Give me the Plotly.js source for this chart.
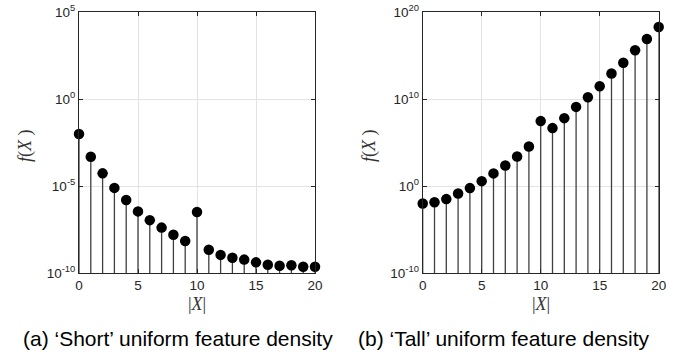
<!DOCTYPE html>
<html>
<head>
<meta charset="utf-8">
<script src="https://cdn.plot.ly/plotly-3.0.1.min.js"></script>
<style>html,body{margin:0;padding:0;background:#fff;}#plot{width:689px;height:354px;}</style>
</head>
<body>
<div id="plot"></div>
<script>
const sizes = [0,1,2,3,4,5,6,7,8,9,10,11,12,13,14,15,16,17,18,19,20];
const shortValues = [1.0e-2,4.9e-4,5.4e-5,7.9e-6,1.6e-6,3.5e-7,1.1e-7,4.1e-8,1.6e-8,6.9e-9,3.2e-7,2.2e-9,1.1e-9,7.6e-10,5.9e-10,4.1e-10,3.0e-10,2.6e-10,2.8e-10,2.3e-10,2.3e-10];
const tallValues = [1.0e-2,1.4e-2,3.2e-2,0.14,0.59,3.7,29,240,2.6e3,3.6e4,3.0e7,4.7e6,6.6e7,1.3e9,1.7e10,3.1e11,8.9e12,1.6e14,4.3e15,8.5e16,2.0e18];
const shortTicks = [1e-10,1e-5,1,1e5];
const shortTickText = ['10<sup>-10</sup>','10<sup>-5</sup>','10<sup>0</sup>','10<sup>5</sup>'];
const tallTicks = [1e-10,1,1e10,1e20];
const tallTickText = ['10<sup>-10</sup>','10<sup>0</sup>','10<sup>10</sup>','10<sup>20</sup>'];
const xTicks = [0,5,10,15,20];
const captions = ["(a) ‘Short’ uniform feature density","(b) ‘Tall’ uniform feature density"];
const yTitle = "<i>f</i>(<i>X</i> )";
const xTitle = "|<i>X</i>|";

function stems(xs, ys, base, xa, ya){
  const sx=[], sy=[];
  xs.forEach((x,i)=>{ sx.push(x,x,null); sy.push(base,ys[i],null); });
  return {x:sx,y:sy,mode:'lines',type:'scatter',xaxis:xa,yaxis:ya,
    line:{color:'#404040',width:1.3},hoverinfo:'skip',showlegend:false,cliponaxis:false};
}
function pts(xs, ys, xa, ya){
  return {x:xs,y:ys,mode:'markers',type:'scatter',xaxis:xa,yaxis:ya,
    marker:{color:'#000',size:10.5},showlegend:false,cliponaxis:false};
}
const data = [
  stems(sizes, shortValues, 1e-10, 'x', 'y'),
  pts(sizes, shortValues, 'x', 'y'),
  stems(sizes, tallValues, 1e-10, 'x2', 'y2'),
  pts(sizes, tallValues, 'x2', 'y2')
];
const axColor = '#262626';
const tickFont = {family:'Liberation Sans, Arial, sans-serif', size:13.5, color:axColor};
function xax(dom, anchor){
  return {domain:dom, anchor:anchor, range:[0,20], tickvals:xTicks, ticks:'inside', ticklen:4,
    tickcolor:axColor, showline:true, linecolor:axColor, linewidth:1, mirror:'ticks',
    showgrid:true, gridcolor:'#e3e3e3', gridwidth:1, zeroline:false, tickfont:tickFont};
}
function yax(dom, anchor, range, tv, tt){
  return {domain:dom, anchor:anchor, type:'log', range:range, tickvals:tv, ticktext:tt,
    ticks:'inside', ticklen:4, tickcolor:axColor, showline:true, linecolor:axColor, linewidth:1,
    mirror:'ticks', showgrid:true, gridcolor:'#e3e3e3', gridwidth:1, zeroline:false, tickfont:tickFont};
}
const yDom = [1-273/354, 1-12.3/354];
const titleFont = {family:'Liberation Serif, Times New Roman, serif', size:18, color:'#333'};
const capFont = {family:'Liberation Sans, Arial, sans-serif', size:21, color:'#000'};
const layout = {
  width:689, height:354, margin:{l:0,r:0,t:0,b:0}, paper_bgcolor:'#fff', plot_bgcolor:'#fff',
  showlegend:false,
  xaxis: xax([79/689, 315/689], 'y'),
  yaxis: yax(yDom, 'x', [-10,5], shortTicks, shortTickText),
  xaxis2: xax([422.7/689, 658.7/689], 'y2'),
  yaxis2: yax(yDom, 'x2', [-10,20], tallTicks, tallTickText),
  annotations: [
    {text:yTitle, xref:'paper', yref:'paper', x:25/689, y:1-146/354, textangle:-90, showarrow:false, font:titleFont, xanchor:'center', yanchor:'middle'},
    {text:yTitle, xref:'paper', yref:'paper', x:369/689, y:1-146/354, textangle:-90, showarrow:false, font:titleFont, xanchor:'center', yanchor:'middle'},
    {text:xTitle, xref:'paper', yref:'paper', x:197/689, y:1-304/354, showarrow:false, font:titleFont, xanchor:'center', yanchor:'middle'},
    {text:xTitle, xref:'paper', yref:'paper', x:541/689, y:1-304/354, showarrow:false, font:titleFont, xanchor:'center', yanchor:'middle'},
    {text:captions[0], xref:'paper', yref:'paper', x:178/689, y:1-338/354, showarrow:false, font:capFont, xanchor:'center', yanchor:'middle'},
    {text:captions[1], xref:'paper', yref:'paper', x:504/689, y:1-338/354, showarrow:false, font:capFont, xanchor:'center', yanchor:'middle'}
  ]
};
Plotly.newPlot('plot', data, layout, {staticPlot:true, displayModeBar:false});
</script>
</body>
</html>
